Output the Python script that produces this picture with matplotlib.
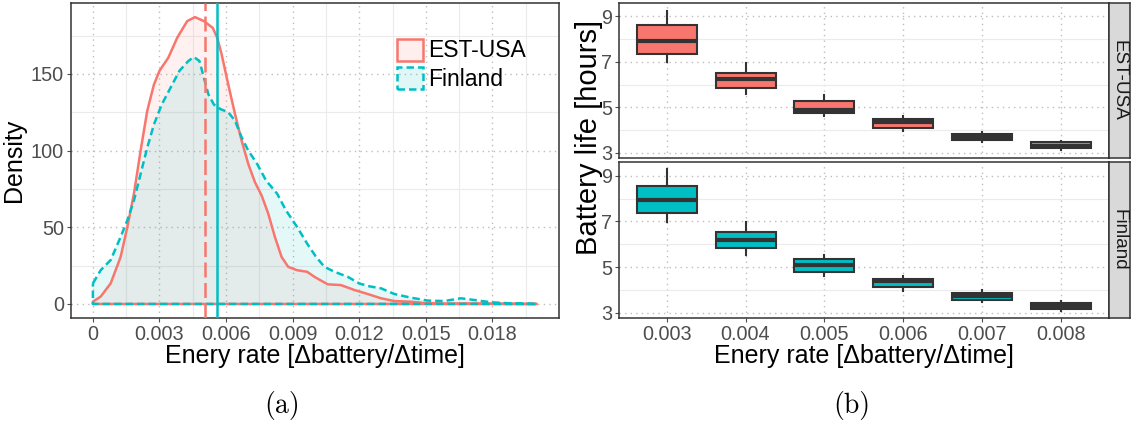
import numpy as np
import matplotlib
matplotlib.use("Agg")
import matplotlib.pyplot as plt
from matplotlib.patches import Patch
from matplotlib.ticker import FixedLocator

plt.rcParams['font.family'] = ['Liberation Sans', 'DejaVu Sans']

# ---------------- data ----------------
# density curves (panel a)
est_x = [0.0, 0.00035, 0.0008, 0.00125, 0.00155, 0.00185, 0.00215, 0.00245, 0.00275,
         0.0030, 0.0034, 0.0038, 0.00425, 0.0046, 0.0050, 0.0054, 0.0056, 0.0058,
         0.0061, 0.0064, 0.0067, 0.0070, 0.0073, 0.0076, 0.0079, 0.0082, 0.0085,
         0.0088, 0.0092, 0.00965, 0.00998, 0.01058, 0.01118, 0.01178, 0.01238,
         0.01298, 0.01358, 0.01433, 0.01508, 0.0158, 0.0168, 0.0200]
est_y = [1.5, 4.8, 13.4, 30.7, 50, 72, 100, 126, 143,
         152, 160.6, 173.6, 184.4, 187, 184.4, 180, 173.6, 162.8,
         143, 124, 106.5, 91.3, 79.4, 70.8, 58.9, 43.7, 30.7,
         24.2, 22, 21, 17.7, 12.8, 12.3, 9.1, 6.5,
         3.7, 1.9, 1.5, 0.4, 0.1, 0.2, 0.0]

fin_x = [0.0, 0.00035, 0.0008, 0.00125, 0.00155, 0.00185, 0.00215, 0.00245, 0.00275,
         0.0031, 0.0035, 0.0039, 0.0043, 0.00455, 0.0048, 0.0050, 0.0052, 0.00545,
         0.00575, 0.0061, 0.0064, 0.0067, 0.0070, 0.0074, 0.0078, 0.0083, 0.0087,
         0.0092, 0.00965, 0.01004, 0.01043, 0.01088, 0.01148, 0.0120, 0.01238,
         0.01298, 0.01358, 0.01433, 0.01508, 0.01583, 0.01658, 0.01718, 0.01793,
         0.01883, 0.0200]
fin_y = [13.4, 22, 28.6, 43.7, 54.5, 67.5, 84.8, 102, 117,
         130, 141, 152, 158.4, 161, 158.4, 147.6, 136.8, 130,
         127, 125, 119.5, 108.7, 100, 91.3, 80.5, 71.9, 61,
         50.2, 39.4, 31, 24.2, 21, 17.7, 13.4, 11.7,
         10.2, 6.5, 4.1, 2.2, 1.9, 3.7, 2.6, 1.1,
         0.4, 0.0]

est_mean = 0.00504
fin_mean = 0.00557

x_ticks_a = [0, 0.003, 0.006, 0.009, 0.012, 0.015, 0.018]
x_ticklabels_a = ['0', '0.003', '0.006', '0.009', '0.012', '0.015', '0.018']
y_ticks_a = [0, 50, 100, 150]

# boxplots (panel b)
categories = ['0.003', '0.004', '0.005', '0.006', '0.007', '0.008']
est_whislo = [7.00, 5.58, 4.64, 3.98, 3.47, 3.12]
est_q1     = [7.36, 5.86, 4.77, 4.09, 3.55, 3.22]
est_med    = [7.91, 6.23, 4.89, 4.37, 3.70, 3.32]
est_q3     = [8.63, 6.53, 5.30, 4.50, 3.83, 3.47]
est_whishi = [9.25, 6.95, 5.54, 4.63, 3.93, 3.50]

fin_whislo = [6.96, 5.55, 4.63, 3.94, 3.46, 3.07]
fin_q1     = [7.37, 5.82, 4.79, 4.14, 3.58, 3.17]
fin_med    = [7.95, 6.20, 5.10, 4.38, 3.72, 3.29]
fin_q3     = [8.56, 6.55, 5.36, 4.49, 3.87, 3.41]
fin_whishi = [9.29, 6.96, 5.55, 4.63, 3.99, 3.51]

groups = ['EST-USA', 'Finland']
RED = '#F8766D'
CYAN = '#00BFC4'
DARK = '#333333'
TICKC = '#4D4D4D'
W, H = 1137, 430

fig = plt.figure(figsize=(W/100, H/100), dpi=100)

def frect(x0, y0, x1, y1):
    return [x0/W, 1 - y1/H, (x1 - x0)/W, (y1 - y0)/H]

# ---------------- panel (a) ----------------
axa = fig.add_axes(frect(70.7, 2.7, 559, 318.3))
axa.set_xlim(-0.001, 0.021)
axa.set_ylim(-9.35, 196.4)

axa.xaxis.set_major_locator(FixedLocator(x_ticks_a))
axa.xaxis.set_minor_locator(FixedLocator([0.0015, 0.0045, 0.0075, 0.0105, 0.0135, 0.0165, 0.0195]))
axa.yaxis.set_major_locator(FixedLocator(y_ticks_a))
axa.yaxis.set_minor_locator(FixedLocator([25, 75, 125, 175]))
axa.grid(which='minor', color='#EBEBEB', lw=0.8, ls='-')
axa.grid(which='major', color='#BDBDBD', lw=1.0, ls=(0, (1, 3)))
axa.set_axisbelow(True)

for xs, ys, col, ls in [(est_x, est_y, RED, '-'), (fin_x, fin_y, CYAN, (0, (3, 1.6)))]:
    xs = np.asarray(xs); ys = np.asarray(ys)
    px = np.concatenate([xs, xs[::-1]])
    py = np.concatenate([ys, np.zeros_like(ys)])
    axa.fill(px, py, facecolor=col, alpha=0.10, edgecolor='none', zorder=2)
    axa.fill(px, py, facecolor='none', edgecolor=col, lw=1.8, ls=ls, zorder=3,
             joinstyle='round')

axa.axvline(est_mean, color=RED, lw=1.8, ls=(0, (6, 2.2)), zorder=4)
axa.axvline(fin_mean, color=CYAN, lw=1.8, ls='-', zorder=4)

axa.set_xticklabels(x_ticklabels_a)
axa.tick_params(axis='both', which='major', labelsize=14.3, colors=TICKC,
                length=3, width=0.8, pad=2)
axa.tick_params(axis='both', which='minor', length=0)
for sp in axa.spines.values():
    sp.set_color(DARK)
    sp.set_linewidth(1.1)
axa.set_ylabel('Density', fontsize=18, labelpad=3)
axa.set_xlabel('Enery rate [\u0394battery/\u0394time]', fontsize=18, labelpad=0)

handles = [Patch(facecolor=(0.973, 0.463, 0.427, 0.12), edgecolor=RED, lw=1.8, ls='-'),
           Patch(facecolor=(0.0, 0.749, 0.769, 0.12), edgecolor=CYAN, lw=1.8, ls=(0, (3, 1.6)))]
axa.legend(handles, groups, loc='upper left', bbox_to_anchor=(0.668, 0.886),
           frameon=False, fontsize=16.5, handlelength=1.15, handleheight=1.1,
           handletextpad=0.2, labelspacing=0.2, borderpad=0, borderaxespad=0)

# ---------------- panel (b) ----------------
positions = np.arange(1, len(categories) + 1)
facet_rects = [frect(619.3, 2.7, 1108.5, 158.3), frect(619.3, 162.0, 1108.5, 318.3)]
facet_data = [(est_whislo, est_q1, est_med, est_q3, est_whishi, RED),
              (fin_whislo, fin_q1, fin_med, fin_q3, fin_whishi, CYAN)]

for i, (rect, data, name) in enumerate(zip(facet_rects, facet_data, groups)):
    ax = fig.add_axes(rect)
    wlo, q1, med, q3, whi, col = data
    stats = [dict(whislo=wlo[k], q1=q1[k], med=med[k], q3=q3[k], whishi=whi[k], fliers=[])
             for k in range(len(categories))]
    ax.bxp(stats, positions=positions, widths=0.76, patch_artist=True, showcaps=False,
           boxprops=dict(facecolor=col, edgecolor=DARK, lw=1.5),
           medianprops=dict(color=DARK, lw=3.0),
           whiskerprops=dict(color=DARK, lw=1.5), zorder=3)
    ax.set_xlim(0.4, 6.6)
    ax.set_ylim(2.76, 9.60)
    ax.yaxis.set_major_locator(FixedLocator([3, 5, 7, 9]))
    ax.yaxis.set_minor_locator(FixedLocator([4, 6, 8]))
    ax.set_xticks(positions)
    ax.grid(which='minor', axis='y', color='#EBEBEB', lw=0.8, ls='-')
    ax.grid(which='major', color='#BDBDBD', lw=1.0, ls=(0, (1, 3)))
    ax.set_axisbelow(True)
    ax.tick_params(axis='both', which='major', labelsize=14.3, colors=TICKC,
                   length=3, width=0.8, pad=2)
    ax.tick_params(axis='both', which='minor', length=0)
    for sp in ax.spines.values():
        sp.set_color(DARK)
        sp.set_linewidth(1.1)
    if i == 0:
        ax.tick_params(axis='x', labelbottom=False, length=0)
    else:
        ax.set_xticklabels(categories)
        ax.set_xlabel('Enery rate [\u0394battery/\u0394time]', fontsize=18, labelpad=0)
    sax = fig.add_axes([rect[0] + rect[2], rect[1], 21.5/W, rect[3]])
    sax.set_facecolor('#D9D9D9')
    sax.set_xticks([]); sax.set_yticks([])
    for sp in sax.spines.values():
        sp.set_color(DARK)
        sp.set_linewidth(1.1)
    sax.text(0.5, 0.5, name, rotation=-90, ha='center', va='center',
             fontsize=13.6, color='#1A1A1A', transform=sax.transAxes)

fig.text(589/W, 1 - 137/H, 'Battery life [hours]', rotation=90,
         ha='center', va='center', fontsize=21)

# sub-captions
fig.text(282/W, 1 - 405/H, '(a)', ha='center', va='center', fontsize=20, family='cmr10')
fig.text(852/W, 1 - 405/H, '(b)', ha='center', va='center', fontsize=20, family='cmr10')

fig.savefig('out.png', dpi=100)
